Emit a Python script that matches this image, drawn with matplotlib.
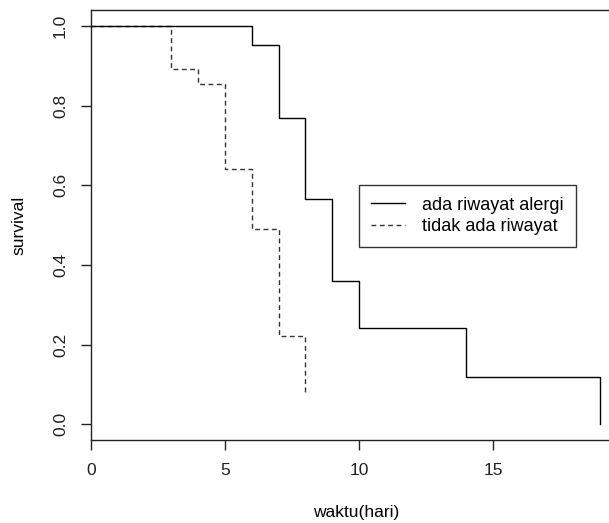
import matplotlib.pyplot as plt
import numpy as np

plt.rcParams['font.family'] = ['Liberation Sans', 'DejaVu Sans']

# Kaplan-Meier step values
waktu_alergi = [0, 6, 7, 8, 9, 10, 14, 19]
surv_alergi = [1.0, 0.953, 0.770, 0.565, 0.360, 0.241, 0.119, 0.0]

waktu_tidak = [0, 3, 4, 5, 6, 7, 8]
surv_tidak = [1.0, 0.891, 0.855, 0.640, 0.490, 0.222, 0.078]

label_alergi = "ada riwayat alergi"
label_tidak = "tidak ada riwayat"


def tangga(t, s):
    # step path: horizontal then vertical drop at each time
    xs, ys = [t[0]], [s[0]]
    for i in range(1, len(t)):
        xs += [t[i], t[i]]
        ys += [s[i - 1], s[i]]
    return xs, ys


fig = plt.figure(figsize=(6.09, 5.23), dpi=100)
ax = fig.add_axes([91 / 609, 1 - 440.3 / 523, (620.6 - 91) / 609, (440.3 - 10) / 523])

x1, y1 = tangga(waktu_alergi, surv_alergi)
x2, y2 = tangga(waktu_tidak, surv_tidak)
ax.plot(x1, y1, color='black', lw=1.0, label=label_alergi, zorder=3)
ax.plot(x2, y2, color='#333333', lw=1.0, linestyle=(0, (3.5, 2.5)), label=label_tidak, zorder=2)

ax.set_xlim(0, 19.76)
ax.set_ylim(-0.04, 1.04)
ax.set_xticks([0, 5, 10, 15])
ax.set_yticks([0.0, 0.2, 0.4, 0.6, 0.8, 1.0])
ax.set_yticklabels(['0.0', '0.2', '0.4', '0.6', '0.8', '1.0'], rotation=90, va='center')
ax.tick_params(direction='out', length=7.5, width=1, labelsize=12.5, pad=9, colors='#222222')
for sp in ax.spines.values():
    sp.set_linewidth(1)
    sp.set_color('#222222')

ax.set_xlabel('waktu(hari)', fontsize=12.5, labelpad=19)
ax.set_ylabel('survival', fontsize=12.5, labelpad=19)

leg = fig.legend(loc='upper left', bbox_to_anchor=(359 / 609, 1 - 185 / 523),
                 fontsize=13, frameon=True, fancybox=False, edgecolor='black',
                 handlelength=1.9, handletextpad=0.95, borderpad=0.65,
                 labelspacing=0.25, borderaxespad=0)
leg.get_frame().set_linewidth(1)

fig.savefig('out.png', dpi=100)
